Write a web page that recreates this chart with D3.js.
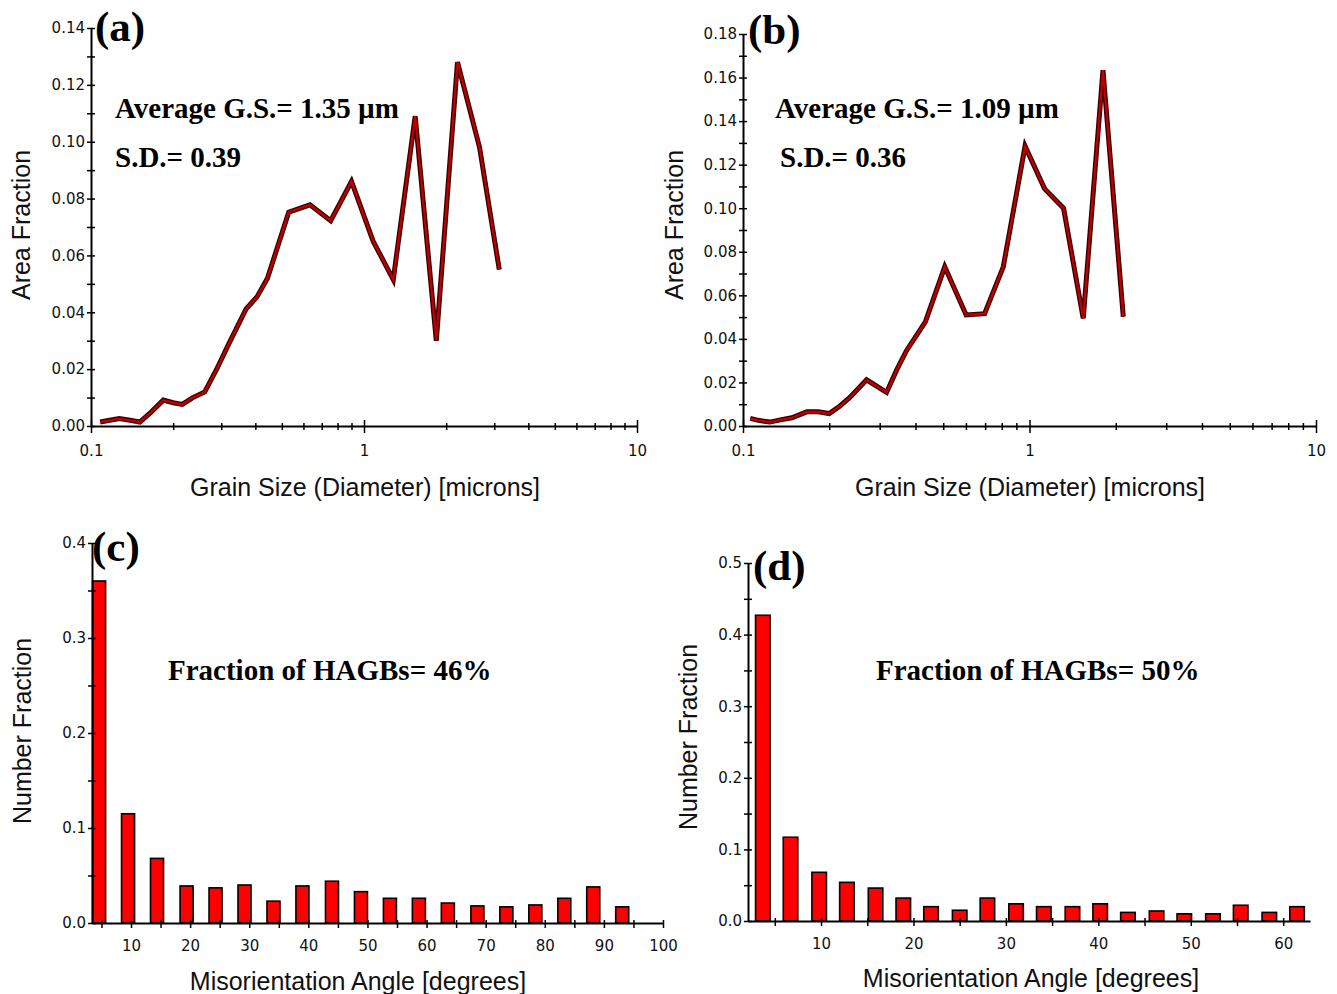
<!DOCTYPE html>
<html lang="en">
<head>
<meta charset="UTF-8">
<title>Grain size and misorientation distributions</title>
<script src="https://cdn.jsdelivr.net/npm/d3@7"></script>
<style>
  body { margin: 0; background: #fff; }
  .axis .tick text { font-family: "DejaVu Sans", Verdana, sans-serif; font-size: 15px; fill: #111; }
  .axis path, .axis line { stroke: #000; }
  .title { font-family: "Liberation Sans", Arial, sans-serif; font-size: 25px; fill: #111; }
  .note { font-family: "Liberation Serif", "Times New Roman", serif; font-weight: bold; font-size: 29px; }
  .panel { font-family: "Liberation Serif", "Times New Roman", serif; font-weight: bold; font-size: 43px; }
</style>
</head>
<body>
<svg id="fig" width="1337" height="994"></svg>
<script>
// (a) grain size distribution, sample 1
const sizeA = [0.108, 0.117, 0.127, 0.139, 0.151, 0.166, 0.184, 0.200, 0.216, 0.236, 0.261, 0.288, 0.320,
               0.370, 0.406, 0.443, 0.530, 0.634, 0.755, 0.900, 1.08, 1.28, 1.54, 1.84, 2.20, 2.65, 3.13];
const fracA = [0.0014, 0.0020, 0.0026, 0.0020, 0.0014, 0.0049, 0.0091, 0.0082, 0.0076, 0.0100, 0.0120, 0.0198, 0.0290,
               0.0412, 0.0455, 0.0520, 0.0752, 0.0778, 0.0722, 0.0860, 0.0650, 0.0515, 0.1090, 0.0300, 0.1280, 0.0980, 0.0550];

// (b) grain size distribution, sample 2
const sizeB = [0.106, 0.113, 0.124, 0.135, 0.148, 0.167, 0.183, 0.200, 0.218, 0.236, 0.270, 0.317, 0.343,
               0.372, 0.433, 0.506, 0.601, 0.697, 0.810, 0.965, 1.128, 1.315, 1.540, 1.805, 2.125];
const fracB = [0.0035, 0.0026, 0.0018, 0.0028, 0.0038, 0.0065, 0.0065, 0.0057, 0.0092, 0.0131, 0.0212, 0.0154, 0.0254,
               0.0346, 0.0478, 0.0731, 0.0510, 0.0516, 0.0731, 0.1285, 0.1090, 0.1000, 0.0494, 0.1634, 0.0502];

// (c) misorientation angle distribution, sample 1
const angleC = [4.6, 9.5, 14.4, 19.4, 24.3, 29.2, 34.1, 39.0, 44.0, 48.9, 53.8, 58.7, 63.6, 68.6, 73.5, 78.4, 83.3, 88.2, 93.1];
const numC = [0.360, 0.115, 0.068, 0.039, 0.037, 0.040, 0.023, 0.039, 0.044, 0.033, 0.026, 0.026, 0.021, 0.018, 0.017, 0.019, 0.026, 0.038, 0.017];

// (d) misorientation angle distribution, sample 2
const angleD = [3.7, 6.7, 9.8, 12.8, 15.9, 18.9, 21.9, 25.0, 28.0, 31.1, 34.1, 37.2, 40.2, 43.2, 46.3, 49.3, 52.4, 55.4, 58.5, 61.5];
const numD = [0.427, 0.117, 0.068, 0.054, 0.046, 0.032, 0.020, 0.015, 0.032, 0.024, 0.020, 0.020, 0.024, 0.012, 0.014, 0.010, 0.010, 0.022, 0.012, 0.020];

// tick labels
const yLabelsA = [0, 0.02, 0.04, 0.06, 0.08, 0.10, 0.12, 0.14];
const yLabelsB = [0, 0.02, 0.04, 0.06, 0.08, 0.10, 0.12, 0.14, 0.16, 0.18];
const logLabels = [0.1, 1, 10];
const yLabelsC = [0, 0.1, 0.2, 0.3, 0.4];
const yLabelsD = [0, 0.1, 0.2, 0.3, 0.4, 0.5];
const xLabelsC = [10, 20, 30, 40, 50, 60, 70, 80, 90, 100];
const xLabelsD = [10, 20, 30, 40, 50, 60];

const svg = d3.select('#fig');

function isLabel(list, v) {
    return list.some(l => Math.abs(l - v) < 1e-9);
}

// vertical axis with ticks crossing the axis line
function drawYAxis(g, y, minor, labels, fmt, left) {
    const ax = g.append('g')
        .attr('class', 'axis')
        .attr('transform', 'translate(' + left + ',0)')
        .call(d3.axisLeft(y).tickValues(minor).tickSize(4).tickSizeOuter(0).tickPadding(2)
            .tickFormat(d => isLabel(labels, d) ? fmt(d) : ''));
    ax.select('.domain').attr('stroke-width', 2);
    ax.selectAll('.tick line').attr('x1', 4).attr('stroke-width', 1.5);
}

function drawLinePanel(cfg) {
    const g = svg.append('g');
    const x = d3.scaleLog().domain([0.1, 10]).range([cfg.left, cfg.right]);
    const y = d3.scaleLinear().domain([0, cfg.yMax]).range([cfg.bottom, cfg.top]);

    // log x axis: a tick at every integer multiple, labels at decades
    const xTicks = [];
    [0.1, 1].forEach(dec => d3.range(1, 10).forEach(k => xTicks.push(+(dec * k).toFixed(3))));
    xTicks.push(10);
    const xa = g.append('g')
        .attr('class', 'axis')
        .attr('transform', 'translate(0,' + cfg.bottom + ')')
        .call(d3.axisBottom(x).tickValues(xTicks).tickSize(4).tickSizeOuter(0).tickPadding(15)
            .tickFormat(d => isLabel(logLabels, d) ? String(d) : ''));
    xa.select('.domain').attr('stroke-width', 2);
    xa.selectAll('.tick line')
        .attr('stroke-width', 1.5)
        .attr('y1', d => isLabel(logLabels, d) ? -6 : -3)
        .attr('y2', d => isLabel(logLabels, d) ? 7 : 4);

    const minor = d3.range(0, Math.round(cfg.yMax * 100) + 1).map(i => i / 100);
    drawYAxis(g, y, minor, cfg.yLabels, d3.format('.2f'), cfg.left);

    const pts = cfg.xs.map((v, i) => [v, cfg.ys[i]]);
    const line = d3.line().x(d => x(d[0])).y(d => y(d[1]));
    g.append('path').datum(pts).attr('d', line)
        .attr('fill', 'none').attr('stroke', '#3a0000').attr('stroke-width', 5)
        .attr('stroke-linejoin', 'miter').attr('stroke-miterlimit', 4);
    g.append('path').datum(pts).attr('d', line)
        .attr('fill', 'none').attr('stroke', '#c00000').attr('stroke-width', 2.2)
        .attr('stroke-linejoin', 'miter').attr('stroke-miterlimit', 4);

    g.append('text').attr('class', 'title')
        .attr('transform', 'translate(' + cfg.yTitle[0] + ',' + cfg.yTitle[1] + ') rotate(-90)')
        .attr('text-anchor', 'middle').text('Area Fraction');
    g.append('text').attr('class', 'title')
        .attr('x', cfg.xTitle[0]).attr('y', cfg.xTitle[1])
        .attr('text-anchor', 'middle').text('Grain Size (Diameter) [microns]');

    g.append('text').attr('class', 'panel').attr('x', cfg.tag[0]).attr('y', cfg.tag[1]).text(cfg.tagText);
    g.append('text').attr('class', 'note').attr('x', cfg.note1[0]).attr('y', cfg.note1[1]).text(cfg.avg);
    g.append('text').attr('class', 'note').attr('x', cfg.note2[0]).attr('y', cfg.note2[1]).text(cfg.sd);
}

function drawBarPanel(cfg) {
    const g = svg.append('g');
    const x = d3.scaleLinear().domain(cfg.xDomain).range([cfg.left, cfg.right]);
    const y = d3.scaleLinear().domain([0, cfg.yMax]).range([cfg.bottom, cfg.top]);

    const bw = x(cfg.barWidth) - x(0);
    g.selectAll('rect.bar')
        .data(cfg.xs)
        .enter().append('rect')
        .attr('class', 'bar')
        .attr('x', d => x(d) - bw / 2)
        .attr('y', (d, i) => y(cfg.ys[i]))
        .attr('width', bw)
        .attr('height', (d, i) => y(0) - y(cfg.ys[i]))
        .attr('fill', '#ff0000')
        .attr('stroke', '#000')
        .attr('stroke-width', 1.6);

    const xTicks = d3.range(5, cfg.xDomain[1] + 0.01, 5);
    const xa = g.append('g')
        .attr('class', 'axis')
        .attr('transform', 'translate(0,' + cfg.bottom + ')')
        .call(d3.axisBottom(x).tickValues(xTicks).tickSize(5).tickSizeOuter(0).tickPadding(12)
            .tickFormat(d => isLabel(cfg.xLabels, d) ? String(d) : ''));
    xa.select('.domain').attr('stroke-width', 2);
    xa.selectAll('.tick line').attr('y1', -3).attr('stroke-width', 1.5);

    const minor = d3.range(0, Math.round(cfg.yMax * 20) + 1).map(i => i / 20);
    drawYAxis(g, y, minor, cfg.yLabels, d3.format('.1f'), cfg.left);

    g.append('text').attr('class', 'title')
        .attr('transform', 'translate(' + cfg.yTitle[0] + ',' + cfg.yTitle[1] + ') rotate(-90)')
        .attr('text-anchor', 'middle').text('Number Fraction');
    g.append('text').attr('class', 'title')
        .attr('x', cfg.xTitle[0]).attr('y', cfg.xTitle[1])
        .attr('text-anchor', 'middle').text('Misorientation Angle [degrees]');

    g.append('text').attr('class', 'panel').attr('x', cfg.tag[0]).attr('y', cfg.tag[1]).text(cfg.tagText);
    g.append('text').attr('class', 'note').attr('x', cfg.note[0]).attr('y', cfg.note[1]).text(cfg.noteText);
}

drawLinePanel({
    xs: sizeA, ys: fracA, yMax: 0.14, yLabels: yLabelsA,
    left: 91, right: 637, top: 28, bottom: 426,
    yTitle: [30, 225], xTitle: [365, 496],
    tag: [95, 41], tagText: '(a)',
    note1: [115, 118], note2: [115, 167],
    avg: 'Average G.S.= 1.35 \u00b5m', sd: 'S.D.= 0.39'
});

drawLinePanel({
    xs: sizeB, ys: fracB, yMax: 0.18, yLabels: yLabelsB,
    left: 743, right: 1316, top: 34, bottom: 426,
    yTitle: [683, 225], xTitle: [1030, 496],
    tag: [748, 44], tagText: '(b)',
    note1: [775, 118], note2: [780, 167],
    avg: 'Average G.S.= 1.09 \u00b5m', sd: 'S.D.= 0.36'
});

drawBarPanel({
    xs: angleC, ys: numC, yMax: 0.4, yLabels: yLabelsC, xLabels: xLabelsC,
    xDomain: [3.4, 100], barWidth: 2.2,
    left: 92, right: 663, top: 543, bottom: 923,
    yTitle: [31, 731], xTitle: [358, 990],
    tag: [92, 561], tagText: '(c)',
    note: [168, 680], noteText: 'Fraction of HAGBs= 46%'
});

drawBarPanel({
    xs: angleD, ys: numD, yMax: 0.5, yLabels: yLabelsD, xLabels: xLabelsD,
    xDomain: [2.1, 62.9], barWidth: 1.57,
    left: 748, right: 1310, top: 563, bottom: 921,
    yTitle: [697, 737], xTitle: [1031, 987],
    tag: [753, 580], tagText: '(d)',
    note: [876, 680], noteText: 'Fraction of HAGBs= 50%'
});
</script>
</body>
</html>
